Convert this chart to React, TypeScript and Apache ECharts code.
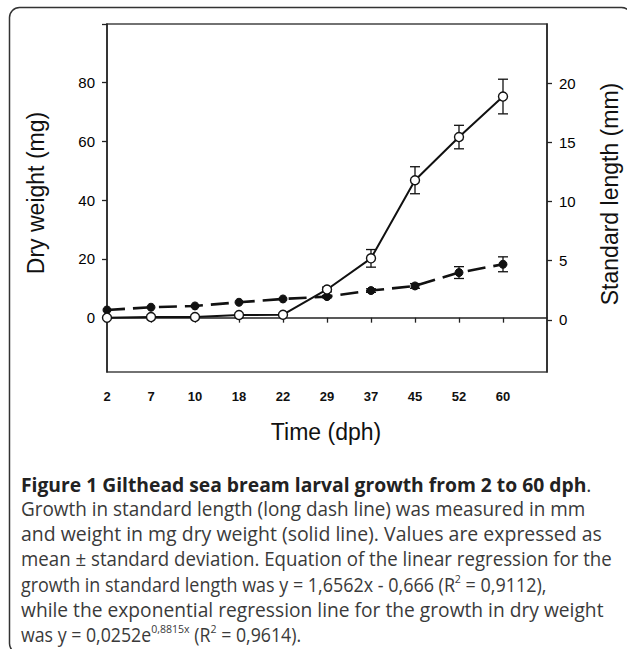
import React, { useEffect, useRef } from "react";
import * as echarts from "echarts";

const days = ["2", "7", "10", "18", "22", "29", "37", "45", "52", "60"];
const dryWeight = [0, 0.2, 0.2, 0.9, 1.0, 9.6, 20.2, 46.8, 61.5, 75.3];
const dryWeightSd = [0, 0, 0, 0, 0, 0.8, 3.0, 4.6, 4.0, 5.9];
const stdLength = [0.84, 1.07, 1.18, 1.49, 1.77, 1.97, 2.48, 2.87, 4.0, 4.7];
const stdLengthSd = [0, 0, 0, 0, 0, 0.1, 0.15, 0.2, 0.5, 0.63];
const leftTicks = [0, 20, 40, 60, 80];
const rightTicks = [0, 5, 10, 15, 20];

const captionTitle = "Figure 1 Gilthead sea bream larval growth from 2 to 60 dph";
const captionLines = [
  "Growth in standard length (long dash line) was measured in mm",
  "and weight in mg dry weight (solid line). Values are expressed as",
  "mean ± standard deviation. Equation of the linear regression for the",
  "growth in standard length was y = 1,6562x - 0,666 (R{sup|2} = 0,9112),",
  "while the exponential regression line for the growth in dry weight",
  "was y = 0,0252e{sup|0,8815x} (R{sup|2} = 0,9614).",
];
const captionFit = [0.98, 1.01, 0.968, 0.93, 0.995, 0.92];

const AX_FONT = "Liberation Sans, Arial, sans-serif";
const CAP_FONT = "Open Sans, sans-serif";
const CAP_SIZE = 19.3;

function errorBars(values: number[], sds: number[]) {
  return values.map((v, i) => [i, v - sds[i], v + sds[i]]);
}

const renderErr = (params: any, api: any) => {
  const x = api.value(0);
  const lo = api.value(1);
  const hi = api.value(2);
  if (hi - lo <= 0) return { type: "group", children: [] };
  const top = api.coord([x, hi]);
  const bot = api.coord([x, lo]);
  const hw = 5;
  const st = { stroke: "#111", lineWidth: 1.3 };
  return {
    type: "group",
    children: [
      { type: "line", shape: { x1: top[0], y1: top[1], x2: bot[0], y2: bot[1] }, style: st },
      { type: "line", shape: { x1: top[0] - hw, y1: top[1], x2: top[0] + hw, y2: top[1] }, style: st },
      { type: "line", shape: { x1: bot[0] - hw, y1: bot[1], x2: bot[0] + hw, y2: bot[1] }, style: st },
    ],
  };
};

export default function App() {
  const ref = useRef<HTMLDivElement>(null);
  useEffect(() => {
    if (!ref.current) return;
    const chart = echarts.init(ref.current, undefined, { renderer: "svg" });
    const axisLine = { show: true, lineStyle: { color: "#222", width: 1.5 } };
    const captionGraphics: any[] = [
      {
        type: "text",
        x: 21,
        y: 484,
        style: {
          text: "{b|" + captionTitle + "}{n|.}",
          textVerticalAlign: "middle",
          rich: {
            b: { fontFamily: CAP_FONT, fontSize: CAP_SIZE, fontWeight: "bold", fill: "#222" },
            n: { fontFamily: CAP_FONT, fontSize: CAP_SIZE, fill: "#333" },
          },
        },
      },
      ...captionLines.map((t, i) => ({
        type: "text",
        x: 21,
        y: 509 + i * 25,
        scaleX: captionFit[i],
        style: {
          text: "{n|" + t.replace(/\{sup\|([^}]*)\}/g, "}{sup|$1}{n|") + "}",
          textVerticalAlign: "middle",
          rich: {
            n: { fontFamily: CAP_FONT, fontSize: CAP_SIZE, fill: "#3a3a3a", lineHeight: 26 },
            sup: { fontFamily: CAP_FONT, fontSize: 11.5, fill: "#3a3a3a", verticalAlign: "top", lineHeight: 14, padding: [1, 0, 0, 0] },
          },
        },
      })),
    ];
    chart.setOption({
      animation: false,
      backgroundColor: "#fff",
      grid: {
        left: 107,
        top: 24,
        right: 80,
        bottom: 277,
        show: true,
        borderColor: "#444",
        borderWidth: 1.5,
      },
      xAxis: {
        type: "value",
        min: 0,
        max: 10,
        interval: 1,
        splitLine: { show: false },
        axisLine,
        axisTick: { show: true, length: 5, customValues: days.map((_, i) => i), lineStyle: { color: "#222", width: 1.3 } },
        axisLabel: {
          customValues: days.map((_, i) => i),
          formatter: (v: number) => days[v] ?? "",
          fontFamily: AX_FONT,
          fontSize: 13,
          fontWeight: "bold",
          color: "#111",
          margin: 18,
        },
      },
      yAxis: [
        {
          type: "value",
          min: -18.5,
          max: 100,
          position: "left",
          splitLine: { show: false },
          axisLine,
          axisTick: { show: true, length: 5, customValues: [...leftTicks, 100], lineStyle: { color: "#222", width: 1.3 } },
          axisLabel: {
            customValues: leftTicks,
            fontFamily: AX_FONT,
            fontSize: 15,
            color: "#000",
            margin: 12,
          },
        },
        {
          type: "value",
          min: -4.4,
          max: 25,
          position: "right",
          splitLine: { show: false },
          axisLine,
          axisTick: { show: true, length: 5, customValues: rightTicks, lineStyle: { color: "#222", width: 1.3 } },
          axisLabel: {
            customValues: rightTicks,
            fontFamily: AX_FONT,
            fontSize: 15,
            color: "#000",
            margin: 12,
          },
        },
      ],
      series: [
        {
          type: "custom",
          name: "Dry weight SD",
          yAxisIndex: 0,
          renderItem: renderErr,
          data: errorBars(dryWeight, dryWeightSd),
          z: 1,
        },
        {
          type: "custom",
          name: "Standard length SD",
          yAxisIndex: 1,
          renderItem: renderErr,
          data: errorBars(stdLength, stdLengthSd),
          z: 1,
        },
        {
          type: "line",
          name: "Standard length",
          yAxisIndex: 1,
          data: stdLength.map((v, i) => [i, v]),
          lineStyle: { color: "#111", width: 2.6, type: [18, 8] },
          symbol: "circle",
          symbolSize: 8,
          itemStyle: { color: "#111", borderColor: "#111", borderWidth: 1 },
          z: 3,
        },
        {
          type: "line",
          name: "Dry weight",
          yAxisIndex: 0,
          data: dryWeight.map((v, i) => [i, v]),
          lineStyle: { color: "#111", width: 2 },
          symbol: "circle",
          symbolSize: 9,
          showAllSymbol: true,
          itemStyle: { color: "#fff", borderColor: "#111", borderWidth: 1.4 },
          z: 4,
        },
      ],
      graphic: [
        {
          type: "rect",
          shape: { x: 9.5, y: 7.5, width: 622, height: 646, r: 10 },
          style: { fill: "none", stroke: "#333", lineWidth: 1.5 },
          silent: true,
          z: 0,
        },
        {
          type: "text",
          x: 36,
          y: 193,
          rotation: Math.PI / 2,
          style: {
            text: "Dry weight (mg)",
            fontFamily: AX_FONT,
            fontSize: 23,
            fill: "#111",
            textAlign: "center",
            textVerticalAlign: "middle",
          },
        },
        {
          type: "text",
          x: 610,
          y: 194,
          rotation: Math.PI / 2,
          style: {
            text: "Standard length (mm)",
            fontFamily: AX_FONT,
            fontSize: 23,
            fill: "#111",
            textAlign: "center",
            textVerticalAlign: "middle",
          },
        },
        {
          type: "text",
          x: 326,
          y: 432,
          style: {
            text: "Time (dph)",
            fontFamily: AX_FONT,
            fontSize: 23,
            fill: "#111",
            textAlign: "center",
            textVerticalAlign: "middle",
          },
        },
        ...captionGraphics,
      ],
    });
    return () => chart.dispose();
  }, []);
  return (
    <div
      ref={ref}
      style={{ position: "absolute", left: 0, top: 0, width: 627, height: 649, background: "#fff" }}
    />
  );
}
